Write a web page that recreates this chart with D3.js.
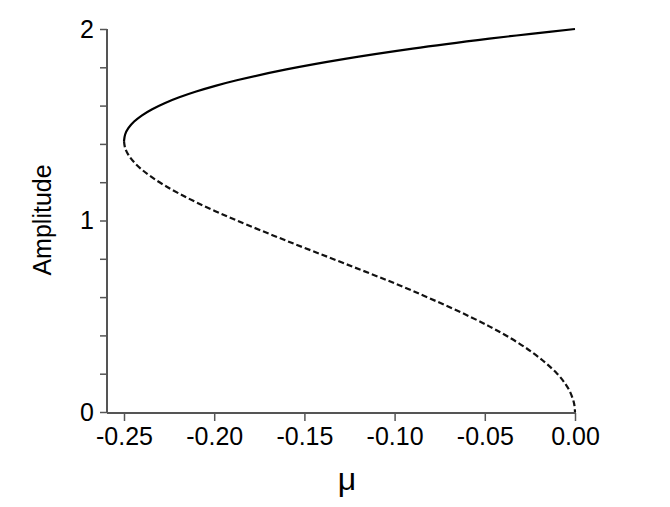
<!DOCTYPE html>
<html>
<head>
<meta charset="utf-8">
<script src="https://cdn.jsdelivr.net/npm/d3@7"></script>
<style>
  html, body { margin: 0; padding: 0; background: #fff; }
  svg { display: block; font-family: "Liberation Sans", Arial, sans-serif; }
</style>
</head>
<body>
<svg id="chart" width="670" height="507"></svg>
<script>
// ---- data ----
const xTicks = [-0.25, -0.20, -0.15, -0.10, -0.05, 0.00];
const xTickLabels = ["-0.25", "-0.20", "-0.15", "-0.10", "-0.05", "0.00"];
const yTicks = [0, 0.2, 0.4, 0.6, 0.8, 1.0, 1.2, 1.4, 1.6, 1.8, 2.0];
const yTickLabels = ["0", "", "", "", "", "1", "", "", "", "", "2"];
const xLabel = "μ";
const yLabel = "Amplitude";

// stable (solid) branch
const stableMu  = [-0.25, -0.249375, -0.2475, -0.244375, -0.24, -0.234375, -0.2275, -0.219375, -0.21, -0.199375, -0.1875, -0.16, -0.1275, -0.09, -0.0475, -0.024375, 0];
const stableAmp = [1.4142, 1.4491, 1.4832, 1.5166, 1.5492, 1.5811, 1.6125, 1.6432, 1.6733, 1.7029, 1.7321, 1.7889, 1.8439, 1.8974, 1.9494, 1.9748, 2.0];

// unstable (dashed) branch
const unstableMu  = [-0.25, -0.249375, -0.2475, -0.244375, -0.24, -0.234375, -0.2275, -0.219375, -0.21, -0.199375, -0.1875, -0.16, -0.1275, -0.09, -0.0475, -0.024375, -0.0099, -0.004975, -0.0024938, -0.0004998, 0];
const unstableAmp = [1.4142, 1.3784, 1.3416, 1.3038, 1.2649, 1.2247, 1.1832, 1.1402, 1.0954, 1.0488, 1.0, 0.8944, 0.7746, 0.6325, 0.4472, 0.3162, 0.2, 0.1414, 0.1, 0.0447, 0];

// ---- layout ----
const svg = d3.select("#chart");
const x = d3.scaleLinear().domain([-0.25, 0]).range([124, 575]);
const y = d3.scaleLinear().domain([0, 2]).range([412, 29]);
const axisColor = "#555";
const fontSize = 25;

// x axis
const xAxis = svg.append("g").attr("transform", "translate(0,413)")
  .call(d3.axisBottom(x).tickValues(xTicks).tickSize(8).tickPadding(6)
        .tickFormat((d, i) => xTickLabels[i]));
xAxis.select(".domain").remove();
xAxis.append("line").attr("x1", 107).attr("x2", 576).attr("y1", 0).attr("y2", 0)
  .attr("stroke", axisColor).attr("stroke-width", 2);
xAxis.selectAll(".tick line").attr("stroke", axisColor).attr("stroke-width", 1.5);
xAxis.selectAll(".tick text").attr("fill", "#000").attr("font-size", fontSize)
  .attr("font-family", "Liberation Sans, Arial, sans-serif");

// y axis
const yAxis = svg.append("g").attr("transform", "translate(107,0)")
  .call(d3.axisLeft(y).tickValues(yTicks).tickSize(7).tickPadding(6)
        .tickFormat((d, i) => yTickLabels[i]));
yAxis.select(".domain").remove();
yAxis.append("line").attr("x1", 0).attr("x2", 0).attr("y1", y(2)).attr("y2", 413)
  .attr("stroke", axisColor).attr("stroke-width", 2);
yAxis.selectAll(".tick line").attr("stroke", axisColor).attr("stroke-width", 1.5);
yAxis.selectAll(".tick text").attr("fill", "#000").attr("font-size", fontSize)
  .attr("font-family", "Liberation Sans, Arial, sans-serif");

// axis titles
svg.append("text").attr("x", 347).attr("y", 490).attr("text-anchor", "middle")
  .attr("font-size", 32).attr("fill", "#000").text(xLabel);
svg.append("text").attr("transform", "translate(51,220) rotate(-90)")
  .attr("text-anchor", "middle").attr("font-size", fontSize).attr("fill", "#000").text(yLabel);

// curves
const line = d3.line().x(d => x(d[0])).y(d => y(d[1])).curve(d3.curveCatmullRom.alpha(0.5));
svg.append("path").datum(d3.zip(stableMu, stableAmp)).attr("d", line)
  .attr("fill", "none").attr("stroke", "#000").attr("stroke-width", 2.2);
svg.append("path").datum(d3.zip(unstableMu, unstableAmp)).attr("d", line)
  .attr("fill", "none").attr("stroke", "#111").attr("stroke-width", 2.2)
  .attr("stroke-dasharray", "6,3");
</script>
</body>
</html>
